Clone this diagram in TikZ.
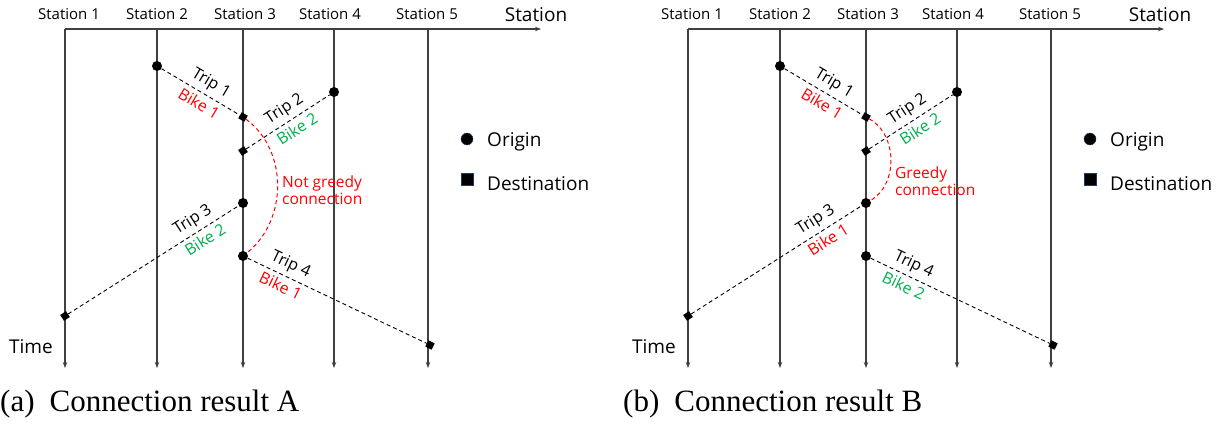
\documentclass[tikz,border=0pt]{standalone}
\usepackage{fontspec}
\setmainfont{Open Sans}
\newfontfamily\capfont{Liberation Serif}
\usetikzlibrary{arrows.meta}
\definecolor{bikered}{RGB}{255,0,0}
\definecolor{bikegreen}{RGB}{0,176,80}
\definecolor{axisgray}{RGB}{64,64,64}
\definecolor{legendblue}{RGB}{31,56,100}

\begin{document}
\begin{tikzpicture}[
  x=1pt, y=-1pt,
  stname/.style={
    font=\fontsize{15}{17}\selectfont, inner sep=0pt, anchor=base
  },
  axname/.style={
    font=\fontsize{19}{22}\selectfont, inner sep=0pt, anchor=base
  },
  axisline/.style={
    -{Stealth[length=6pt,width=4.5pt]}, line width=1.3pt, color=axisgray
  },
  origin/.style={
    circle, fill=black, inner sep=0pt, minimum size=10pt
  },
  dest/.style={
    rectangle, fill=black, inner sep=0pt, minimum size=7pt, rotate=#1
  },
  trip/.style={
    dash pattern=on 4pt off 3pt, line width=0.9pt
  },
  tlabel/.style={
    sloped, font=\fontsize{16}{18}\selectfont, inner sep=4pt, text=#1
  },
  link/.style={
    dash pattern=on 4pt off 3pt, line width=1pt, color=bikered
  },
  note/.style={
    font=\fontsize{15.5}{17}\selectfont, text=bikered, align=left,
    anchor=west, inner sep=0pt
  },
  legend/.style={
    font=\fontsize{19}{22}\selectfont, anchor=base west, inner sep=0pt
  },
  caption/.style={
    font=\capfont\fontsize{31}{34}\selectfont, anchor=base west, inner sep=0pt
  }
]
\useasboundingbox (0,0) rectangle (1227,425);

% Panel (a)
\begin{scope}
% Station names
\node[stname] (a-s1) at (69,20) {Station 1};
\node[stname] (a-s2) at (157,20) {Station 2};
\node[stname] (a-s3) at (245,20) {Station 3};
\node[stname] (a-s4) at (330,20) {Station 4};
\node[stname] (a-s5) at (427,20) {Station 5};
\node[axname] (a-ax) at (536,21.5) {Station};
\node[axname] (a-time) at (31,353) {Time};

% Axes
\coordinate (a-top1) at (65,29);
\coordinate (a-top2) at (157,29);
\coordinate (a-top3) at (243,29);
\coordinate (a-top4) at (334,29);
\coordinate (a-top5) at (428,29);
\coordinate (a-end) at (541,29);
\coordinate (a-bot1) at (65,368);
\coordinate (a-bot2) at (157,368);
\coordinate (a-bot3) at (243,368);
\coordinate (a-bot4) at (334,368);
\coordinate (a-bot5) at (428,368);
\draw[axisline] (a-top1) -- (a-end);
\draw[axisline] (a-top1) -- (a-bot1);
\draw[axisline] (a-top2) -- (a-bot2);
\draw[axisline] (a-top3) -- (a-bot3);
\draw[axisline] (a-top4) -- (a-bot4);
\draw[axisline] (a-top5) -- (a-bot5);

% Trips
\node[origin] (a-o1) at (157,66) {};
\node[dest=-30] (a-d1) at (243,117) {};
\node[origin] (a-o2) at (334,92) {};
\node[dest=33] (a-d2) at (243,151) {};
\node[origin] (a-o3) at (243,203) {};
\node[dest=33] (a-d3) at (65,316) {};
\node[origin] (a-o4) at (243,256) {};
\node[dest=-26] (a-d4) at (430,345) {};

\draw[trip] (a-o1) -- (a-d1)
  node[tlabel=black, above, pos=0.55] {Trip 1}
  node[tlabel=bikered, below, pos=0.55] {Bike 1};
\draw[trip] (a-d2) -- (a-o2)
  node[tlabel=black, above, pos=0.54] {Trip 2}
  node[tlabel=bikegreen, below, pos=0.54] {Bike 2};
\draw[trip] (a-d3) -- (a-o3)
  node[tlabel=black, above, pos=0.77] {Trip 3}
  node[tlabel=bikegreen, below, pos=0.77] {Bike 2};
\draw[trip] (a-o4) -- (a-d4)
  node[tlabel=black, above, pos=0.21] {Trip 4}
  node[tlabel=bikered, below, pos=0.21] {Bike 1};

% Connection
\draw[link] (a-d1) .. controls (288,150) and (288,220) .. (a-o4);
\node[note] (a-note) at (282,190) {Not greedy\\connection};

% Legend
\node[origin, draw=legendblue, minimum size=12pt] (a-lo) at (467,139) {};
\node[legend] (a-lot) at (487,147) {Origin};
\node[dest=0, draw=legendblue, minimum size=12pt] (a-ld) at (467,179) {};
\node[legend] (a-ldt) at (487,190) {Destination};

% Caption
\node[caption] (a-cap) at (0,411) {(a)\hspace{15pt}Connection result A};
\end{scope}

% Panel (b)
\begin{scope}[xshift=623pt]
% Station names
\node[stname] (b-s1) at (69,20) {Station 1};
\node[stname] (b-s2) at (157,20) {Station 2};
\node[stname] (b-s3) at (245,20) {Station 3};
\node[stname] (b-s4) at (330,20) {Station 4};
\node[stname] (b-s5) at (427,20) {Station 5};
\node[axname] (b-ax) at (537,21.5) {Station};
\node[axname] (b-time) at (31,353) {Time};

% Axes
\coordinate (b-top1) at (65,29);
\coordinate (b-top2) at (157,29);
\coordinate (b-top3) at (243,29);
\coordinate (b-top4) at (334,29);
\coordinate (b-top5) at (428,29);
\coordinate (b-end) at (541,29);
\coordinate (b-bot1) at (65,368);
\coordinate (b-bot2) at (157,368);
\coordinate (b-bot3) at (243,368);
\coordinate (b-bot4) at (334,368);
\coordinate (b-bot5) at (428,368);
\draw[axisline] (b-top1) -- (b-end);
\draw[axisline] (b-top1) -- (b-bot1);
\draw[axisline] (b-top2) -- (b-bot2);
\draw[axisline] (b-top3) -- (b-bot3);
\draw[axisline] (b-top4) -- (b-bot4);
\draw[axisline] (b-top5) -- (b-bot5);

% Trips
\node[origin] (b-o1) at (157,66) {};
\node[dest=-30] (b-d1) at (243,117) {};
\node[origin] (b-o2) at (334,92) {};
\node[dest=33] (b-d2) at (243,151) {};
\node[origin] (b-o3) at (243,203) {};
\node[dest=33] (b-d3) at (65,316) {};
\node[origin] (b-o4) at (243,256) {};
\node[dest=-26] (b-d4) at (430,345) {};

\draw[trip] (b-o1) -- (b-d1)
  node[tlabel=black, above, pos=0.55] {Trip 1}
  node[tlabel=bikered, below, pos=0.55] {Bike 1};
\draw[trip] (b-d2) -- (b-o2)
  node[tlabel=black, above, pos=0.54] {Trip 2}
  node[tlabel=bikegreen, below, pos=0.54] {Bike 2};
\draw[trip] (b-d3) -- (b-o3)
  node[tlabel=black, above, pos=0.77] {Trip 3}
  node[tlabel=bikered, below, pos=0.77] {Bike 1};
\draw[trip] (b-o4) -- (b-d4)
  node[tlabel=black, above, pos=0.21] {Trip 4}
  node[tlabel=bikegreen, below, pos=0.21] {Bike 2};

% Connection
\draw[link] (b-d1) .. controls (275,135) and (275,185) .. (b-o3);
\node[note] (b-note) at (272,181) {Greedy\\connection};

% Legend
\node[origin, draw=legendblue, minimum size=12pt] (b-lo) at (467,139) {};
\node[legend] (b-lot) at (487,147) {Origin};
\node[dest=0, draw=legendblue, minimum size=12pt] (b-ld) at (467,179) {};
\node[legend] (b-ldt) at (487,190) {Destination};

% Caption
\node[caption] (b-cap) at (0,411) {(b)\hspace{15pt}Connection result B};
\end{scope}

\end{tikzpicture}
\end{document}
